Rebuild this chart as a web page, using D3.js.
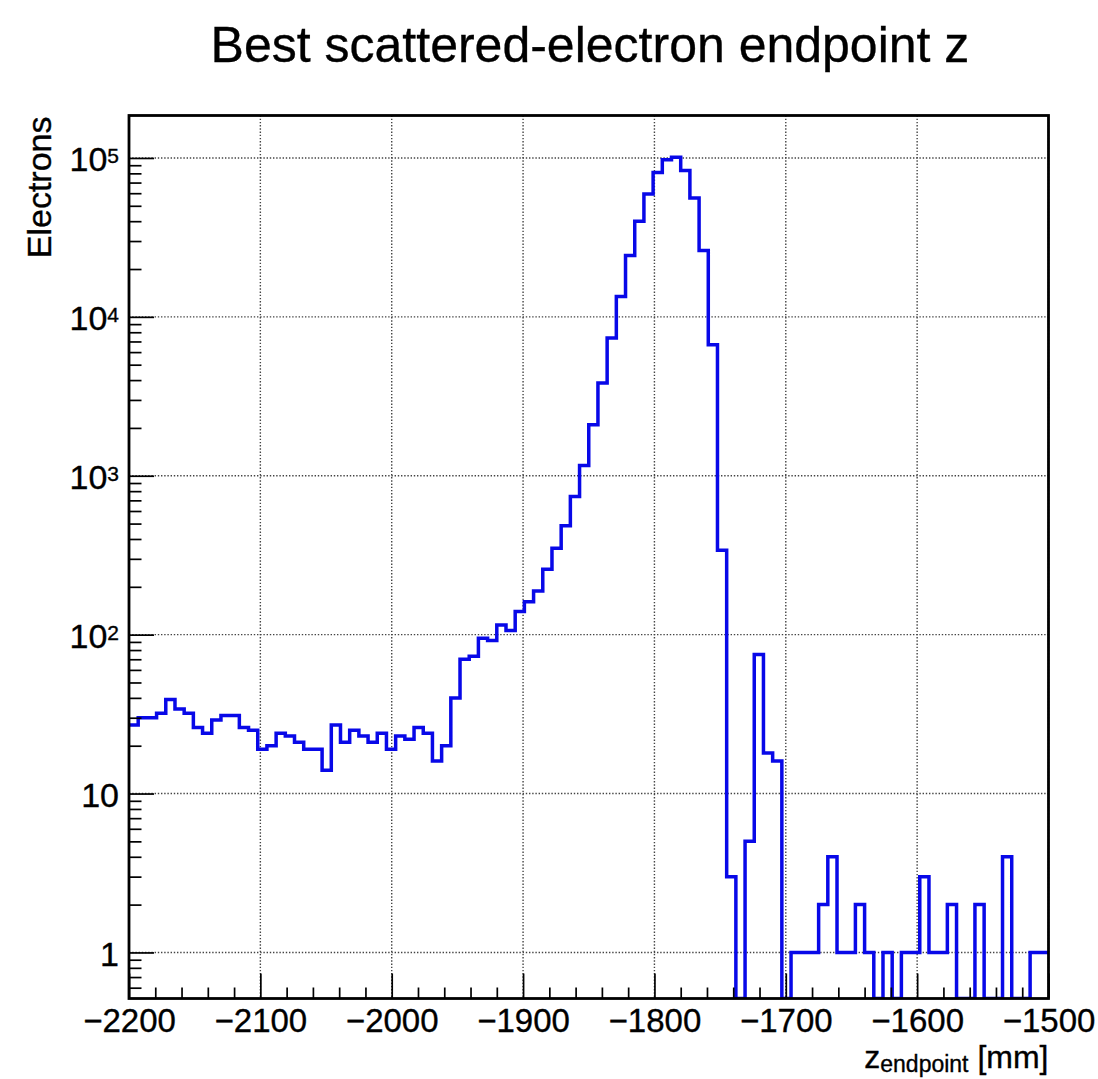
<!DOCTYPE html>
<html>
<head>
<meta charset="utf-8">
<script src="https://cdn.jsdelivr.net/npm/d3@7"></script>
<style>
  html, body { margin: 0; padding: 0; background: #ffffff; }
  svg { display: block; }
  text { font-family: "Liberation Sans", Arial, Helvetica, sans-serif; fill: #000; stroke: #000; stroke-width: 0.35px; }
</style>
</head>
<body>
<svg id="chart" width="1098" height="1079"></svg>
<script>
// Histogram binning: 100 bins of 7 mm from -2200 to -1500 mm
const binLow = -2200;
const binWidth = 7;

// Electrons per bin
const counts = [
  27, 30, 30, 32, 39, 34, 32, 26, 24, 29,
  31, 31, 26, 25, 19, 20, 24, 23, 21, 19,
  19, 14, 27, 21, 25, 23, 21, 24, 19, 23,
  22, 26, 24, 16, 20, 40, 70, 73, 95, 92,
  115, 106, 140, 161, 188, 258, 350, 484, 739, 1159,
  2091, 3828, 7360, 13450, 24370, 39900, 59300, 81100, 97500, 101000,
  83500, 56000, 26200, 6670, 340, 3, 0, 5, 75, 18,
  16, 0, 1, 1, 1, 2, 4, 1, 1, 2,
  1, 0, 1, 0, 1, 1, 3, 1, 1, 2,
  0, 0, 2, 0, 0, 4, 0, 0, 1, 1
];

// Axis ranges and tick values
const xDomain = [-2200, -1500];
const yDomain = [0.513, 1.85e5];
const xMajorTicks = [-2200, -2100, -2000, -1900, -1800, -1700, -1600, -1500];
const yDecades = [1, 10, 100, 1000, 10000, 100000];

const titleText = "Best scattered-electron endpoint z";
const yTitle = "Electrons";

const svg = d3.select("#chart");
const frame = { left: 129, right: 1048.5, top: 115.5, bottom: 998.5 };

const x = d3.scaleLinear().domain(xDomain).range([frame.left, frame.right]);
const y = d3.scaleLog().domain(yDomain).range([frame.bottom, frame.top]);

// Grid (dotted)
const grid = svg.append("g")
  .attr("stroke", "#444")
  .attr("stroke-width", 1.4)
  .attr("stroke-dasharray", "1.4,1.8");
grid.selectAll("line.gx").data(xMajorTicks).enter().append("line")
  .attr("x1", d => x(d)).attr("x2", d => x(d))
  .attr("y1", frame.top).attr("y2", frame.bottom);
grid.selectAll("line.gy").data(yDecades).enter().append("line")
  .attr("x1", frame.left).attr("x2", frame.right)
  .attr("y1", d => y(d)).attr("y2", d => y(d));

// Histogram outline (empty bins drop to the frame bottom)
const clipId = "plotClip";
svg.append("clipPath").attr("id", clipId).append("rect")
  .attr("x", frame.left).attr("y", frame.top)
  .attr("width", frame.right - frame.left).attr("height", frame.bottom - frame.top);

const pts = [];
counts.forEach((c, i) => {
  const v = Math.max(c, yDomain[0]);
  const x0 = binLow + i * binWidth, x1 = x0 + binWidth;
  pts.push([x(x0), y(v)], [x(x1), y(v)]);
});
svg.append("path")
  .attr("clip-path", `url(#${clipId})`)
  .attr("d", d3.line()(pts))
  .attr("fill", "none")
  .attr("stroke", "#0808e8")
  .attr("stroke-width", 3.5)
  .attr("stroke-linejoin", "miter");

// X axis: major ticks with labels, minor ticks every 20 mm
const xMinorTicks = d3.range(-2200, -1500 + 1, 20).filter(v => v % 100 !== 0);
const xAxis = svg.append("g")
  .attr("transform", `translate(0,${frame.bottom})`)
  .call(d3.axisBottom(x).tickValues(xMajorTicks).tickSize(-25).tickPadding(10)
    .tickFormat(d3.format("d")));
xAxis.select(".domain").remove();
xAxis.selectAll(".tick line").attr("stroke", "#000").attr("stroke-width", 1.7);
xAxis.selectAll(".tick text").attr("font-size", 33).attr("font-family", null);
const xMinor = svg.append("g")
  .attr("transform", `translate(0,${frame.bottom})`)
  .call(d3.axisBottom(x).tickValues(xMinorTicks).tickSize(-11).tickFormat(""));
xMinor.select(".domain").remove();
xMinor.selectAll(".tick line").attr("stroke", "#000").attr("stroke-width", 1.7);

// Y axis: decades with labels, minor ticks 2..9 inside the range
const yMinorTicks = [];
[0.1, 1, 10, 100, 1000, 10000, 100000].forEach(d => {
  for (let m = 2; m <= 9; m++) {
    const v = d * m;
    if (v >= yDomain[0] && v <= yDomain[1]) yMinorTicks.push(v);
  }
});

const yAxis = svg.append("g")
  .attr("transform", `translate(${frame.left},0)`)
  .call(d3.axisLeft(y).tickValues(yDecades).tickSize(-25).tickFormat(""));
yAxis.select(".domain").remove();
yAxis.selectAll(".tick line").attr("stroke", "#000").attr("stroke-width", 1.7);
yAxis.selectAll(".tick").each(function(d) {
  const e = Math.round(Math.log10(d));
  const t = d3.select(this).append("text")
    .attr("x", -10).attr("dy", "0.37em")
    .attr("text-anchor", "end").attr("font-size", 34);
  if (e < 2) {
    t.text(String(d));
  } else {
    t.append("tspan").text("10");
    t.append("tspan").attr("dy", "-0.36em").attr("font-size", 21).text(String(e));
  }
});
const yMinor = svg.append("g")
  .attr("transform", `translate(${frame.left},0)`)
  .call(d3.axisLeft(y).tickValues(yMinorTicks).tickSize(-12.5).tickFormat(""));
yMinor.select(".domain").remove();
yMinor.selectAll(".tick line").attr("stroke", "#000").attr("stroke-width", 1.7);

// Frame
svg.append("rect")
  .attr("x", frame.left).attr("y", frame.top)
  .attr("width", frame.right - frame.left).attr("height", frame.bottom - frame.top)
  .attr("fill", "none").attr("stroke", "#000").attr("stroke-width", 2.8);

// Title
svg.append("text")
  .attr("x", 590).attr("y", 62)
  .attr("text-anchor", "middle")
  .attr("font-size", 50)
  .text(titleText);

// Y title
svg.append("text")
  .attr("transform", `translate(51,${frame.top + 1}) rotate(-90)`)
  .attr("text-anchor", "end")
  .attr("font-size", 34)
  .text(yTitle);

// X title with subscript
const xt = svg.append("text")
  .attr("x", frame.right).attr("y", 1068)
  .attr("text-anchor", "end")
  .attr("font-size", 32);
xt.append("tspan").text("z");
xt.append("tspan").attr("font-size", 23).attr("dy", 4).text("endpoint");
xt.append("tspan").attr("dy", -4).text(" [mm]");
</script>
</body>
</html>
